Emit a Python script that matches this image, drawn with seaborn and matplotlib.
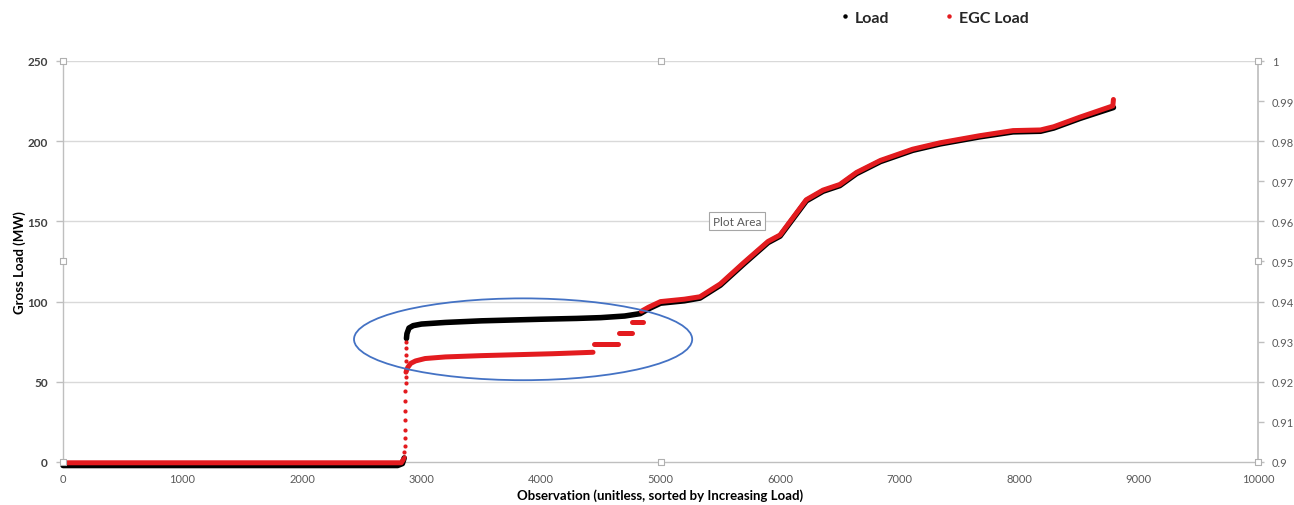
import numpy as np
import pandas as pd
import matplotlib
matplotlib.use("Agg")
import matplotlib.pyplot as plt
import seaborn as sns
from matplotlib.patches import Ellipse
from matplotlib.lines import Line2D

# ---------------- data ----------------
load_base_obs = [0, 2800, 2840, 2855]
load_base_mw = [-2.2, -2.2, -1.0, 2.5]

load_obs = [2874, 2878, 2895, 2930, 3000, 3200, 3500, 3800, 4000, 4300,
            4500, 4700, 4830, 4900, 5000, 5200, 5330, 5500, 5700, 5900, 6000, 6220,
            6360, 6500, 6640, 6840, 7110, 7340, 7670, 7950, 8180, 8290, 8510, 8790]
load_mw = [77, 80, 83.5, 85, 86, 87, 88, 88.6, 89, 89.5,
           90, 91, 92.5, 95.5, 99, 100.5, 102.2, 110.2, 123.7, 136.8, 140.8, 162.8,
           168.8, 172.3, 179.8, 187.3, 194.3, 198.3, 202.7, 205.8, 206.2, 208.2, 214.2, 221]

egc_base_obs = [0, 2830, 2848]
egc_base_mw = [-0.5, -0.5, 1.5]

egc_jump_obs = [2855, 2857, 2858, 2860, 2861, 2862, 2863, 2864, 2865, 2866, 2867,
                2868, 2869, 2870, 2871, 2872]
egc_jump_mw = [3, 6, 10, 15, 20, 26, 32, 38, 44, 49, 53,
               58, 63, 67, 71, 75]

egc_low_obs = [2870, 2885, 2910, 2950, 3030, 3200, 3500, 3800, 4100, 4435]
egc_low_mw = [56, 59, 61.5, 63, 64.5, 65.5, 66.3, 66.9, 67.5, 68.4]

egc_step_start = [4440, 4650, 4765]
egc_step_end = [4640, 4760, 4850]
egc_step_mw = [73.6, 80.4, 87.3]

egc_up_obs = [4840, 4900, 5000, 5200, 5330, 5500, 5700, 5900, 6000, 6220, 6360, 6500,
              6640, 6840, 7110, 7340, 7670, 7950, 8180, 8290, 8510, 8785, 8790]
egc_up_mw = [94, 96.5, 100, 101.5, 103, 111, 124.5, 137.5, 141.5, 163.5, 169.5, 173,
             180.5, 188, 195, 199, 203.4, 206.6, 207, 209, 215, 222, 226]

left_ticks = [0, 50, 100, 150, 200, 250]
right_ticks = [0.9, 0.91, 0.92, 0.93, 0.94, 0.95, 0.96, 0.97, 0.98, 0.99, 1.0]
right_labels = ["0.9", "0.91", "0.92", "0.93", "0.94", "0.95", "0.96", "0.97", "0.98", "0.99", "1"]
x_ticks = [0, 1000, 2000, 3000, 4000, 5000, 6000, 7000, 8000, 9000, 10000]

# ---------------- tables ----------------
lrows = [(o, m, 0) for o, m in zip(load_base_obs, load_base_mw)]
lrows += [(o, m, 1) for o, m in zip(load_obs, load_mw)]
df_load = pd.DataFrame(lrows, columns=["obs", "mw", "seg"])

rows = []
for o, m in zip(egc_base_obs, egc_base_mw):
    rows.append((o, m, 0))
for o, m in zip(egc_low_obs, egc_low_mw):
    rows.append((o, m, 1))
for i, (s, e, m) in enumerate(zip(egc_step_start, egc_step_end, egc_step_mw)):
    rows.append((s, m, 2 + i))
    rows.append((e, m, 2 + i))
for o, m in zip(egc_up_obs, egc_up_mw):
    rows.append((o, m, 10))
df_egc = pd.DataFrame(rows, columns=["obs", "mw", "seg"])
df_jump = pd.DataFrame({"obs": egc_jump_obs, "mw": egc_jump_mw})

# ---------------- style ----------------
sns.set_theme(style="white")
plt.rcParams["font.family"] = ["Lato", "DejaVu Sans"]

RED = "#e31b1f"
GRID = "#d9d9d9"
AXC = "#bfbfbf"
TXT = "#404040"

fig = plt.figure(figsize=(12.94, 5.06), dpi=100)
ax = fig.add_axes([0.0487, 0.085, 0.9722 - 0.0487, 0.8775 - 0.085])

sns.lineplot(data=df_load, x="obs", y="mw", units="seg", color="black", lw=4.0, ax=ax,
             estimator=None, sort=False, legend=False)
sns.lineplot(data=df_egc, x="obs", y="mw", units="seg", color=RED, lw=3.6, ax=ax,
             estimator=None, sort=False, legend=False)
sns.scatterplot(data=df_jump, x="obs", y="mw", color=RED, s=9, linewidth=0, ax=ax,
                legend=False)
for ln in ax.lines:
    ln.set_clip_on(False)
    ln.set_zorder(3)
    ln.set_solid_capstyle("round")
for c in ax.collections:
    c.set_clip_on(False)
    c.set_zorder(4)

ax.set_xlim(0, 10000)
ax.set_ylim(0, 250)
ax.set_xticks(x_ticks)
ax.set_yticks(left_ticks)
ax.set_xticklabels([str(t) for t in x_ticks], color="#595959", fontsize=8)
ax.set_yticklabels([str(t) for t in left_ticks], color=TXT, fontsize=8.5, fontweight="bold")
for y in left_ticks[1:]:
    ax.axhline(y, color=GRID, lw=1, zorder=0)

for sp in ["top", "right"]:
    ax.spines[sp].set_visible(False)
for sp in ["left", "bottom"]:
    ax.spines[sp].set_color(AXC)
    ax.spines[sp].set_linewidth(1)
    ax.spines[sp].set_zorder(1)
ax.tick_params(axis="y", direction="out", length=5, color=AXC, width=1, pad=6)
ax.tick_params(axis="x", direction="inout", length=6, color=AXC, width=1, pad=5)
ax.set_xlabel("Observation (unitless, sorted by Increasing Load)", fontsize=9.5,
              fontweight="bold", color="black", labelpad=3)
ax.set_ylabel("Gross Load (MW)", fontsize=9.5, fontweight="bold", color="black", labelpad=1)

# ellipse annotation
ax.add_patch(Ellipse((3850, 76.5), width=2830, height=51, fill=False,
                     edgecolor="#4472c4", lw=1.3, zorder=5))

# plot area tooltip
ax.text(5640, 150, "Plot Area", ha="center", va="center", fontsize=8.5, color="#595959",
        zorder=6, bbox=dict(boxstyle="square,pad=0.3", fc="white", ec="#a6a6a6", lw=0.8))

# secondary axis
ax2 = ax.twinx()
ax2.set_ylim(0.9, 1.0)
ax2.set_yticks(right_ticks)
ax2.set_yticklabels(right_labels, color="#595959", fontsize=8)
for sp in ["top", "left", "bottom"]:
    ax2.spines[sp].set_visible(False)
ax2.spines["right"].set_color(AXC)
ax2.tick_params(axis="y", direction="out", length=4, color=AXC, width=1, pad=6)
ax2.grid(False)

# selection handles
hx = [0, 0.5, 1, 0, 1, 0, 0.5, 1]
hy = [1, 1, 1, 0.5, 0.5, 0, 0, 0]
ax2.scatter(hx, hy, marker="s", s=22, facecolor="white", edgecolor="#b0b0b0",
            linewidth=0.8, transform=ax.transAxes, clip_on=False, zorder=10)

# legend
handles = [Line2D([], [], marker="o", ls="", color="black", ms=2.2, label="Load"),
           Line2D([], [], marker="o", ls="", color=RED, ms=2.2, label="EGC Load")]
fig.legend(handles=handles, loc="center", bbox_to_anchor=(0.722, 0.963), ncol=2,
           frameon=False, prop={"weight": "bold", "size": 11.5}, handletextpad=0.35,
           columnspacing=3.4, handlelength=0.6)

fig.savefig("out.png", dpi=100, facecolor="white")
